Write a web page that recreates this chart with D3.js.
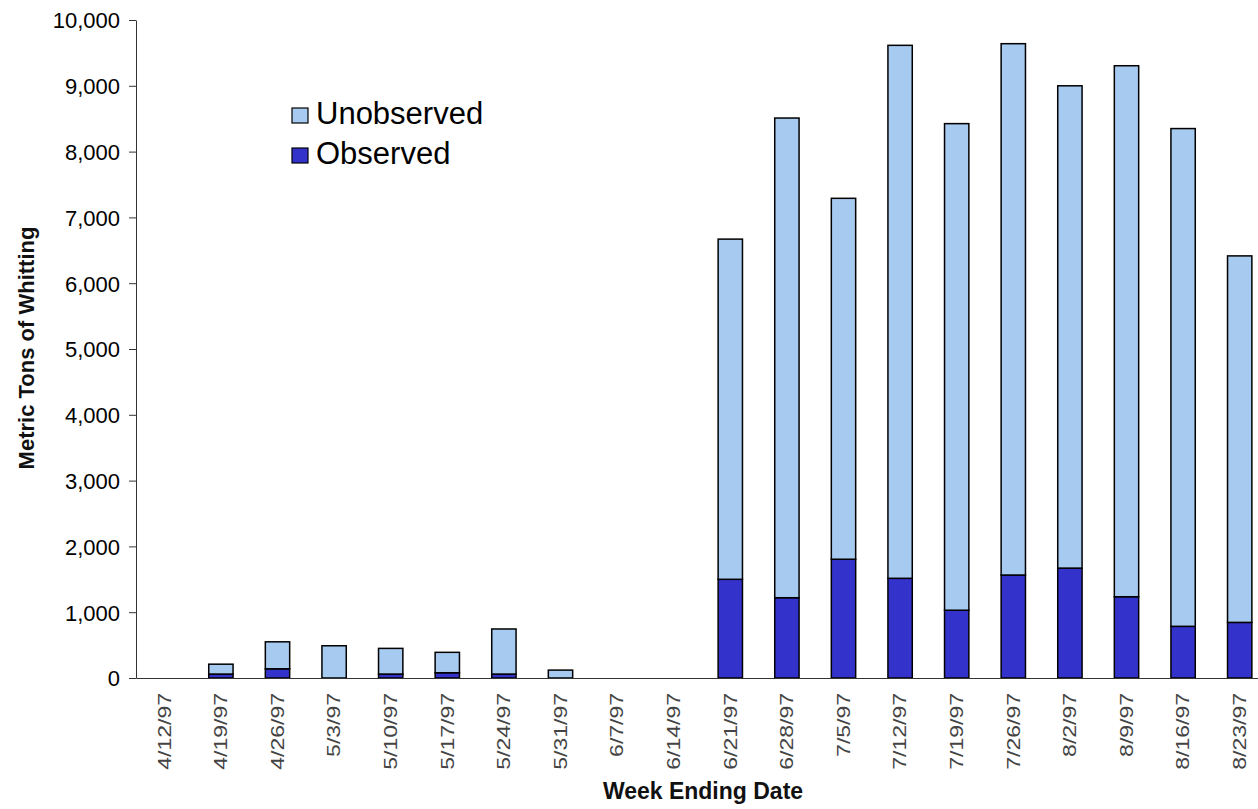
<!DOCTYPE html>
<html>
<head>
<meta charset="utf-8">
<script src="https://cdn.jsdelivr.net/npm/d3@7"></script>
<style>
  body { margin: 0; background: #fff; }
  svg { display: block; font-family: 'Liberation Sans', Arial, sans-serif; }
  .y-axis text { font-size: 22px; fill: #000; }
  .y-axis path, .y-axis line { stroke: #333; }
  .x-axis text { font-size: 23px; fill: #444; }
  .x-axis path { stroke: #333; }
  .label { font-weight: bold; fill: #111; }
  .legend text { font-size: 31px; fill: #000; }
</style>
</head>
<body>
<svg width="1258" height="809"></svg>
<script>
const weeks = ['4/12/97', '4/19/97', '4/26/97', '5/3/97', '5/10/97', '5/17/97', '5/24/97', '5/31/97',
    '6/7/97', '6/14/97', '6/21/97', '6/28/97', '7/5/97', '7/12/97', '7/19/97', '7/26/97',
    '8/2/97', '8/9/97', '8/16/97', '8/23/97'];

// metric tons
const observed = [0, 60, 140, 0, 60, 80, 60, 0, 0, 0,
    1500, 1220, 1805, 1515, 1030, 1565, 1670, 1235, 785, 845];
const unobserved = [0, 150, 410, 490, 390, 310, 685, 120, 0, 0,
    5170, 7290, 5485, 8100, 7395, 8075, 7330, 8070, 7565, 5570];

const yTicks = [0, 1000, 2000, 3000, 4000, 5000, 6000, 7000, 8000, 9000, 10000];

const seriesNames = ['Observed', 'Unobserved'];
const colors = { Observed: '#3333cc', Unobserved: '#a6caf0' };

const svg = d3.select('svg');

const plotLeft = 136;
const plotTop = 20;
const plotBottom = 678;
const step = 56.6;

const xScale = d3.scaleBand()
    .range([plotLeft, plotLeft + weeks.length * step])
    .domain(weeks)
    .paddingInner(0.57)
    .paddingOuter(0.285);

const yScale = d3.scaleLinear()
    .range([plotBottom, plotTop])
    .domain([0, 10000]);

const table = weeks.map((w, i) => ({ week: w, Observed: observed[i], Unobserved: unobserved[i] }));
const stacked = d3.stack().keys(seriesNames)(table);

// bars
svg.append('g')
    .selectAll('g')
    .data(stacked)
    .enter()
    .append('g')
    .attr('fill', (s) => colors[s.key])
    .selectAll('rect')
    .data((s) => s.filter((d) => d[1] - d[0] > 0))
    .enter()
    .append('rect')
    .attr('x', (d) => xScale(d.data.week))
    .attr('y', (d) => yScale(d[1]))
    .attr('height', (d) => yScale(d[0]) - yScale(d[1]))
    .attr('width', xScale.bandwidth())
    .attr('stroke', '#000')
    .attr('stroke-width', 1.5);

// y axis
svg.append('g')
    .attr('class', 'y-axis')
    .attr('transform', `translate(${plotLeft}, 0)`)
    .call(d3.axisLeft(yScale)
        .tickValues(yTicks)
        .tickFormat(d3.format(','))
        .tickSize(7)
        .tickSizeOuter(0)
        .tickPadding(9))
    .call((g) => g.selectAll('text').attr('dy', '0.36em'));

// x axis, labels turned upright and a bit narrow
svg.append('g')
    .attr('class', 'x-axis')
    .attr('transform', `translate(0, ${plotBottom})`)
    .call(d3.axisBottom(xScale).tickSize(0).tickSizeOuter(0))
    .call((g) => g.selectAll('text')
        .attr('transform', 'rotate(-90) scale(1, 0.78)')
        .attr('text-anchor', 'end')
        .attr('x', -15)
        .attr('y', 0)
        .attr('dy', '0.35em'));

svg.append('text')
    .attr('class', 'label')
    .attr('x', 703)
    .attr('y', 799)
    .attr('text-anchor', 'middle')
    .attr('font-size', 23)
    .text('Week Ending Date');

svg.append('text')
    .attr('class', 'label')
    .attr('transform', 'translate(34, 348) rotate(-90)')
    .attr('text-anchor', 'middle')
    .attr('font-size', 22)
    .text('Metric Tons of Whitting');

// legend
const legend = svg.append('g')
    .attr('class', 'legend')
    .attr('transform', 'translate(292, 108)');

const legendItems = legend.selectAll('g')
    .data(['Unobserved', 'Observed'])
    .enter()
    .append('g')
    .attr('transform', (d, i) => `translate(0, ${i * 40})`);

legendItems.append('rect')
    .attr('width', 16)
    .attr('height', 15)
    .attr('fill', (d) => colors[d])
    .attr('stroke', '#000')
    .attr('stroke-width', 1.2);

legendItems.append('text')
    .attr('x', 24)
    .attr('y', 16)
    .text((d) => d);
</script>
</body>
</html>
